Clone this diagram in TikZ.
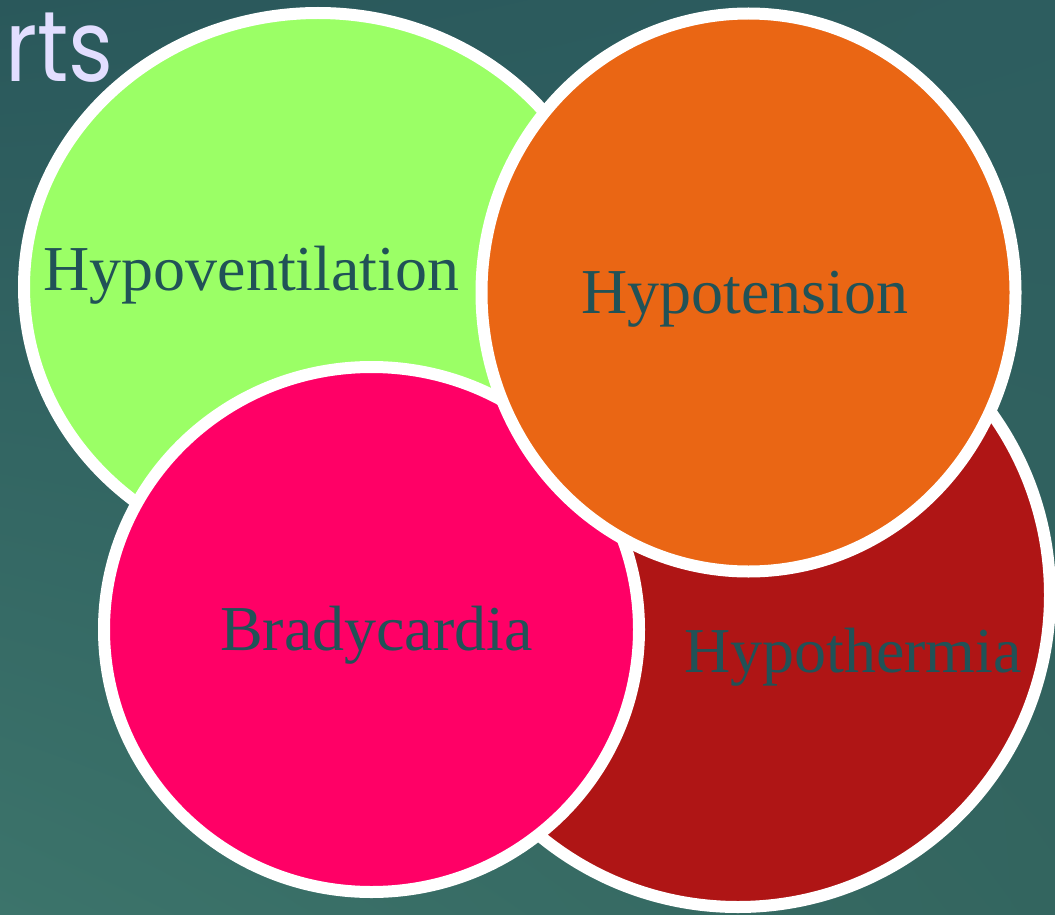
\documentclass[tikz,border=0pt]{standalone}
\usepackage{fontspec}
\usetikzlibrary{shadings,shapes.geometric}
\setmainfont{Liberation Serif}
\newfontfamily\rtsfont{Poppins}
\definecolor{cgreen}{HTML}{9BFF66}
\definecolor{corange}{HTML}{EA6614}
\definecolor{cpink}{HTML}{FF0066}
\definecolor{cred}{HTML}{AF1515}
\definecolor{txt}{HTML}{215257}
\definecolor{ttl}{HTML}{E2DEFF}
\definecolor{bgA}{HTML}{2A585B}
\definecolor{bgB}{HTML}{2D5D5F}
\definecolor{bgC}{HTML}{3C746B}
\definecolor{bgD}{HTML}{33655F}
\begin{document}
\begin{tikzpicture}[x=1pt,y=-1pt,
  bubble/.style={ellipse, draw=white, line width=12pt, inner sep=0pt},
  lbl/.style={anchor=base, font=\fontsize{64}{64}\selectfont, text=txt, inner sep=0pt}]
\useasboundingbox (0,0) rectangle (1055,915);
\shade[upper left=bgA, upper right=bgB, lower left=bgC, lower right=bgD] (0,0) rectangle (1055,915);
\node[anchor=base west, inner sep=0pt, text=ttl, font=\rtsfont\fontsize{100}{100}\selectfont] (title) at (5,82) {\scalebox{0.86}[1]{rts}};
\node[bubble, fill=cgreen, minimum width=588pt, minimum height=548pt] (green) at (318,287) {};
\node[lbl] (hv) at (251.5,290) {Hypoventilation};
\node[bubble, fill=cred, minimum width=624pt, minimum height=624pt] (red) at (738,595) {};
\node[lbl] (ht) at (853,672) {Hypothermia};
\node[bubble, fill=cpink, minimum width=535pt, minimum height=525pt] (pink) at (371.5,629.5) {};
\node[lbl] (br) at (376.5,650) {Bradycardia};
\node[bubble, fill=corange, minimum width=534pt, minimum height=558pt] (orange) at (748.5,292.5) {};
\node[lbl] (hp) at (745,313) {Hypotension};
\end{tikzpicture}
\end{document}
